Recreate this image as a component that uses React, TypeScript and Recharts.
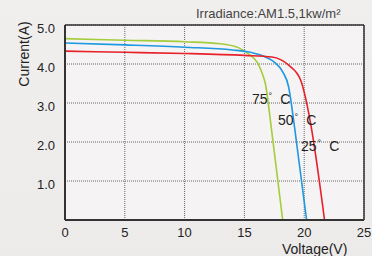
import React from 'react';
import { LineChart, Line, XAxis, YAxis, CartesianGrid, ReferenceLine } from 'recharts';

// I-V curves at three cell temperatures (V, A)
const curve75 = [
  { v: 0, i: 4.65 }, { v: 5, i: 4.61 }, { v: 10, i: 4.57 }, { v: 13, i: 4.52 },
  { v: 14.5, i: 4.42 }, { v: 15.5, i: 4.22 }, { v: 16.1, i: 4.03 }, { v: 16.5, i: 3.75 },
  { v: 16.75, i: 3.5 }, { v: 17.25, i: 2.36 }, { v: 18.2, i: 0 },
];
const curve50 = [
  { v: 0, i: 4.54 }, { v: 5, i: 4.49 }, { v: 10, i: 4.43 }, { v: 14, i: 4.36 },
  { v: 15.5, i: 4.3 }, { v: 16.75, i: 4.18 }, { v: 17.5, i: 4.05 }, { v: 18.2, i: 3.8 },
  { v: 18.7, i: 3.41 }, { v: 19, i: 2.82 }, { v: 19.2, i: 2.36 }, { v: 20.2, i: 0 },
];
const curve25 = [
  { v: 0, i: 4.33 }, { v: 5, i: 4.3 }, { v: 10, i: 4.27 }, { v: 15, i: 4.22 },
  { v: 17.3, i: 4.18 }, { v: 18.7, i: 3.97 }, { v: 19.7, i: 3.59 }, { v: 20.1, i: 3.15 },
  { v: 20.4, i: 2.7 }, { v: 20.6, i: 2.36 }, { v: 21.7, i: 0 },
];

const xTicks = [0, 5, 10, 15, 20, 25];
const yTicks = [1, 2, 3, 4, 5];

const font = '"Liberation Sans", Arial, sans-serif';

const tempLabel = (t: string, left: number, top: number) => (
  <div style={{ position: 'absolute', left, top, fontSize: 14, color: '#222', fontFamily: font, whiteSpace: 'nowrap' }}>
    {t}
    <span style={{ fontSize: 9, verticalAlign: 5, marginLeft: 1 }}>°</span>
    <span style={{ marginLeft: 8 }}>C</span>
  </div>
);

export default function App() {
  return (
    <div
      style={{
        position: 'absolute', left: 0, top: 0, width: 372, height: 256,
        background: 'linear-gradient(180deg, #f1efee 0%, #ecebea 100%)', fontFamily: font,
      }}
    >
      <LineChart width={372} height={256} margin={{ top: 25, right: 8, bottom: 6, left: 0 }}>
        <CartesianGrid strokeDasharray="1 1" stroke="#666" fill="#f5f3f3" />
        <XAxis
          type="number" dataKey="v" domain={[0, 25]} ticks={xTicks} height={30}
          stroke="#333" strokeWidth={2} tickLine={false}
          tick={{ fontSize: 13, fill: '#222', fontFamily: font }} tickMargin={2}
        />
        <YAxis
          type="number" dataKey="i" domain={[0, 5]} ticks={yTicks} width={65}
          stroke="#333" strokeWidth={2} tickLine={false}
          tickFormatter={(val) => val.toFixed(1)}
          tick={{ fontSize: 13, fill: '#222', fontFamily: font, dy: 3 }} tickMargin={4}
        />
        <ReferenceLine y={5} stroke="#333" strokeWidth={1.5} />
        <ReferenceLine x={25} stroke="#333" strokeWidth={1.5} />
        <Line data={curve75} dataKey="i" type="monotone" stroke="#a3cd3b" strokeWidth={1.6} dot={false} isAnimationActive={false} />
        <Line data={curve50} dataKey="i" type="monotone" stroke="#1e98e0" strokeWidth={1.6} dot={false} isAnimationActive={false} />
        <Line data={curve25} dataKey="i" type="monotone" stroke="#e8202a" strokeWidth={1.6} dot={false} isAnimationActive={false} />
      </LineChart>
      <div style={{ position: 'absolute', left: 196, top: 6, fontSize: 13, color: '#444', whiteSpace: 'nowrap' }}>
        Irradiance:AM1.5,1kw/m²
      </div>
      <div
        style={{
          position: 'absolute', left: 24, top: 54, fontSize: 14, color: '#222', whiteSpace: 'nowrap',
          transform: 'translate(-50%, -50%) rotate(-90deg)',
        }}
      >
        Current(A)
      </div>
      <div style={{ position: 'absolute', left: 282, top: 241, fontSize: 14, color: '#222', whiteSpace: 'nowrap' }}>
        Voltage(V)
      </div>
      {tempLabel('75', 252, 91)}
      {tempLabel('50', 278, 112)}
      {tempLabel('25', 301, 138)}
    </div>
  );
}
